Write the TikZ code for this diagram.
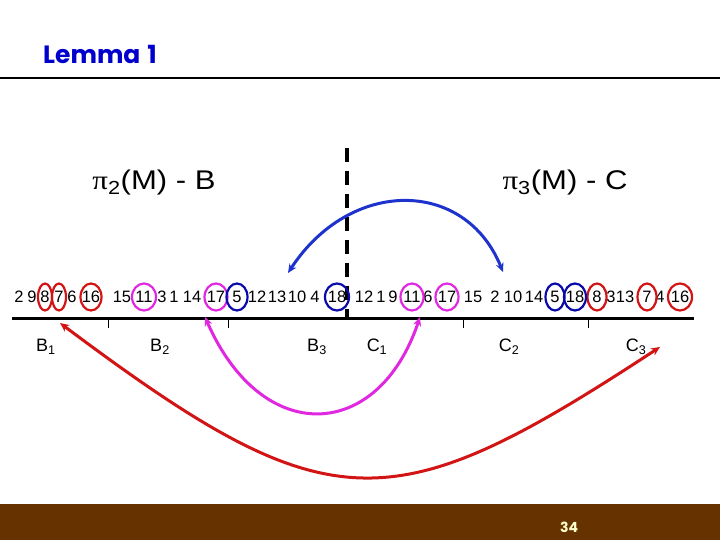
\documentclass[tikz,border=0pt]{standalone}
\usepackage{fontspec}
\setmainfont{Liberation Sans}
\newfontfamily\grfont{Liberation Serif}
\newfontfamily\titlefont{Poppins}
\usetikzlibrary{arrows.meta}
\definecolor{redc}{RGB}{210,20,20}
\definecolor{magc}{RGB}{225,40,225}
\definecolor{bluec}{RGB}{10,10,170}
\definecolor{arcblue}{RGB}{30,50,205}
\definecolor{titleblue}{RGB}{0,0,204}
\definecolor{barbrown}{RGB}{102,51,0}
\definecolor{numyellow}{RGB}{255,255,204}
\begin{document}
\begin{tikzpicture}[x=1pt,y=-1pt,
  num/.style={inner sep=0pt, font=\fontsize{16.5}{16.5}\selectfont},
  lab/.style={inner sep=0pt, font=\fontsize{18}{18}\selectfont},
  big/.style={inner sep=0pt, font=\fontsize{27}{27}\selectfont},
  ring/.style={line width=2.2pt},
  arc/.style={line width=3pt, {Stealth[length=9pt,width=8pt]}-{Stealth[length=9pt,width=8pt]}},
  tick/.style={line width=0.8pt}]
\useasboundingbox (0,0) rectangle (720,540);
% title
\node[anchor=base west, inner sep=0pt, text=titleblue, font=\titlefont\bfseries\fontsize{25}{25}\selectfont] (title) at (43,64) {Lemma\hspace{7pt}1};
\draw[line width=1.2pt] (0,78) -- (720,78);
% headings
\node[big] (pib) at (154,183) {\scalebox{1.15}[1]{{\grfont π}\textsubscript{2}(M) - B}};
\node[big] (pic) at (565,183) {\scalebox{1.15}[1]{{\grfont π}\textsubscript{3}(M) - C}};
% dashed separator
\draw[line width=4pt, dash pattern=on 14pt off 9pt] (347,148) -- (347,318);
% numbers
\foreach \v/\x [count=\i] in {2/19,9/32,8/45,7/59,6/72,16/91,15/122,11/144,3/162,1/174,14/192,17/216,5/237,12/257,13/277,10/297,4/315,18/337,
  12/364,1/381,9/393,11/412,6/428,17/447,15/473,2/495,10/513,14/534,5/555,18/575,8/597,3/611,13/625,7/647,4/660,16/680}
  \node[num] (n\i) at (\x,297) {\v};
% rings
\foreach \i/\r in {3/7,4/7,6/10.5,31/9.5,34/9.5,36/12}
  \draw[ring, redc] (n\i) ellipse [x radius=\r, y radius=13.5];
\foreach \i/\r in {8/12,12/11.5,22/11.5,24/11.5}
  \draw[ring, magc] (n\i) ellipse [x radius=\r, y radius=13.5];
\foreach \i/\r in {13/10.5,18/12,29/9.5,30/11}
  \draw[ring, bluec] (n\i) ellipse [x radius=\r, y radius=13.5];
% axis
\draw[line width=3pt] (12,318) -- (694,318);
\foreach \x in {108,228,463,588} \draw[tick] (\x,318) -- (\x,328);
% labels
\node[lab] (b1) at (46,347) {B\textsubscript{1}};
\node[lab] (b2) at (160,347) {B\textsubscript{2}};
\node[lab] (b3) at (317,347) {B\textsubscript{3}};
\node[lab] (c1) at (377,347) {C\textsubscript{1}};
\node[lab] (c2) at (509,347) {C\textsubscript{2}};
\node[lab] (c3) at (636,347) {C\textsubscript{3}};
% arcs
\coordinate (ba) at (288,273); \coordinate (bb) at (503,272);
\draw[arc, arcblue] (ba) .. controls (350,178) and (465,178) .. (bb);
\coordinate (ma) at (205,317); \coordinate (mb) at (420,317);
\draw[arc, magc] (ma) .. controls (262,447) and (378,442) .. (mb);
\coordinate (ra) at (60,323); \coordinate (rb) at (660,347);
\draw[arc, redc] (ra) .. controls (330,525) and (390,524) .. (rb);
% footer
\fill[barbrown] (0,504) rectangle (720,540);
\node[inner sep=0pt, text=numyellow, font=\titlefont\bfseries\fontsize{14}{14}\selectfont] (pg) at (569,527) {34};
\end{tikzpicture}
\end{document}
